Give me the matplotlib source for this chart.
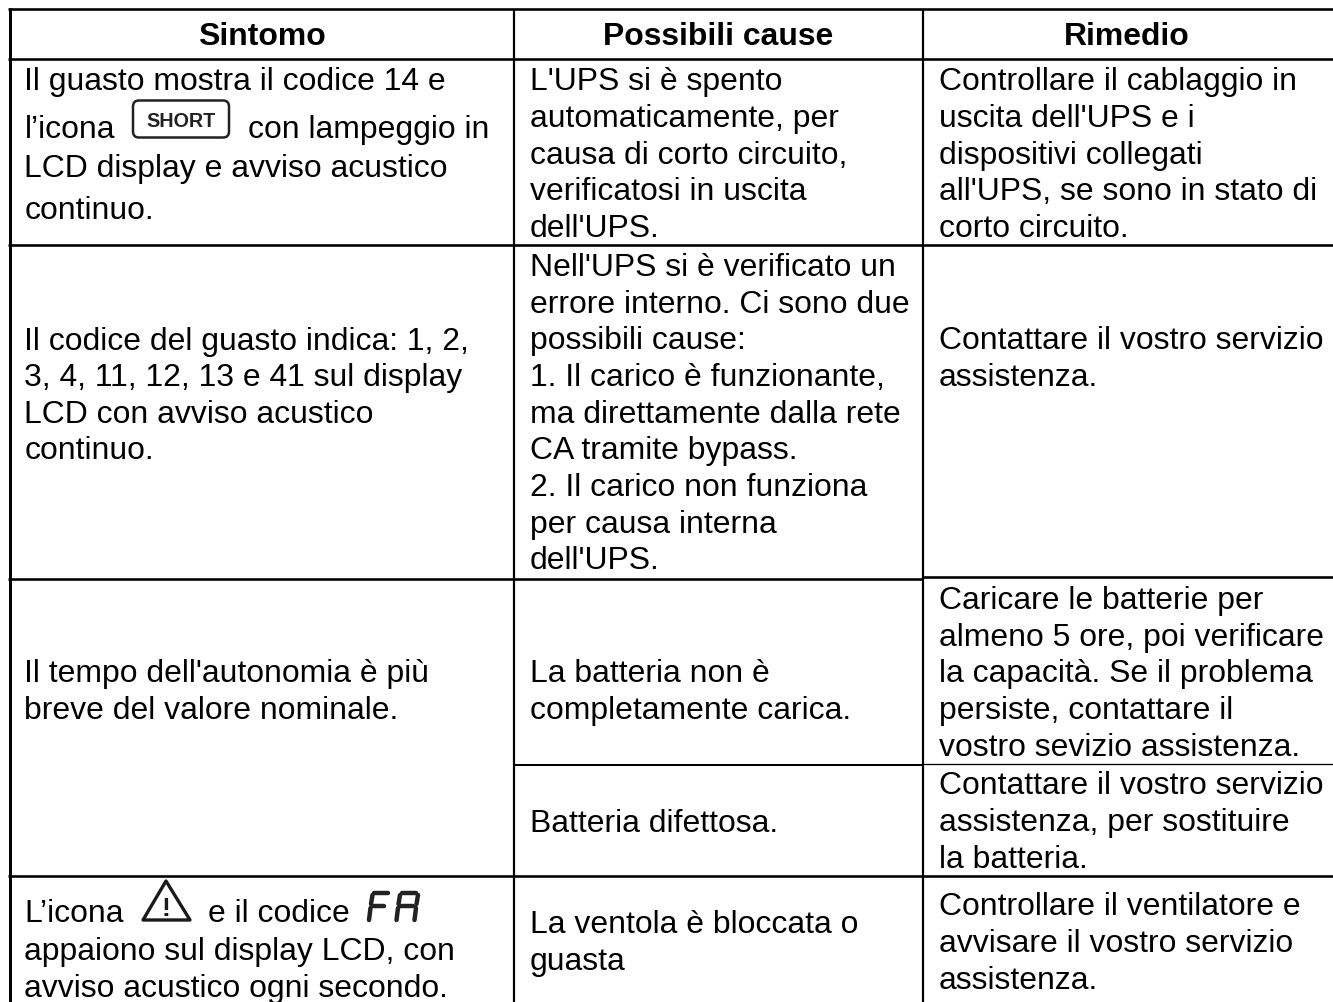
import matplotlib
matplotlib.use("Agg")
import matplotlib.pyplot as plt
from matplotlib.patches import FancyBboxPatch, Polygon

plt.rcParams['font.family'] = ['Liberation Sans', 'DejaVu Sans']
W, H = 1333, 1002
FS = 22.95

headers = ["Sintomo", "Possibili cause", "Rimedio"]
header_x = [262, 718.5, 1127]
col_x = [24.5, 530, 939]

col1_lines = [
    (90, "Il guasto mostra il codice 14 e"),
    (138, "l’icona"),
    (177, "LCD display e avviso acustico"),
    (219, "continuo."),
    (350, "Il codice del guasto indica: 1, 2,"),
    (386, "3, 4, 11, 12, 13 e 41 sul display"),
    (423, "LCD con avviso acustico"),
    (459, "continuo."),
    (682, "Il tempo dell'autonomia è più"),
    (719, "breve del valore nominale."),
    (922, "L’icona"),
    (960, "appaiono sul display LCD, con"),
    (997, "avviso acustico ogni secondo."),
]
col1_extra = [
    (248, 138, "con lampeggio in"),
    (208, 922, "e il codice"),
]
col2_lines = [
    (90, "L'UPS si è spento"),
    (127, "automaticamente, per"),
    (164, "causa di corto circuito,"),
    (200, "verificatosi in uscita"),
    (237, "dell'UPS."),
    (276, "Nell'UPS si è verificato un"),
    (313, "errore interno. Ci sono due"),
    (349, "possibili cause:"),
    (386, "1. Il carico è funzionante,"),
    (423, "ma direttamente dalla rete"),
    (459, "CA tramite bypass."),
    (496, "2. Il carico non funziona"),
    (533, "per causa interna"),
    (569, "dell'UPS."),
    (682, "La batteria non è"),
    (719, "completamente carica."),
    (832, "Batteria difettosa."),
    (933, "La ventola è bloccata o"),
    (970, "guasta"),
]
col3_lines = [
    (90, "Controllare il cablaggio in"),
    (127, "uscita dell'UPS e i"),
    (164, "dispositivi collegati"),
    (200, "all'UPS, se sono in stato di"),
    (237, "corto circuito."),
    (349, "Contattare il vostro servizio"),
    (386, "assistenza."),
    (609, "Caricare le batterie per"),
    (646, "almeno 5 ore, poi verificare"),
    (682, "la capacità. Se il problema"),
    (719, "persiste, contattare il"),
    (756, "vostro sevizio assistenza."),
    (794, "Contattare il vostro servizio"),
    (831, "assistenza, per sostituire"),
    (868, "la batteria."),
    (915, "Controllare il ventilatore e"),
    (952, "avvisare il vostro servizio"),
    (989, "assistenza."),
]

fig = plt.figure(figsize=(W / 100, H / 100), dpi=100)
ax = fig.add_axes([0, 0, 1, 1])
ax.set_xlim(0, W)
ax.set_ylim(H, 0)
ax.axis('off')

def rule(x0, x1, y0, y1, px):
    ax.plot([x0, x1], [y0, y1], color='black', lw=px * 0.72, solid_capstyle='butt')

rule(9.5, 9.5, 8, H, 3)
rule(514.3, 514.3, 9, H, 2.2)
rule(922.8, 922.8, 9, H, 2.2)
rule(8, W, 9, 9, 2.6)
rule(8, W, 58.5, 58.5, 2.6)
rule(8, W, 245, 245, 2.6)
rule(8, 923, 578.5, 578.5, 2.6)
rule(923, W, 577.3, 577.3, 2.6)
rule(514, 923, 764.7, 764.7, 2)
rule(923, W, 764, 764, 1.3)
rule(8, W, 876, 876, 2.6)

for x, h in zip(header_x, headers):
    ax.text(x, 45, h, ha='center', va='baseline', fontsize=FS, fontweight='bold', color='black')
for cx, lines in zip(col_x, [col1_lines, col2_lines, col3_lines]):
    for y, s in lines:
        ax.text(cx, y, s, ha='left', va='baseline', fontsize=FS, color='black')
for x, y, s in col1_extra:
    ax.text(x, y, s, ha='left', va='baseline', fontsize=FS, color='black')

# SHORT icon
ax.add_patch(FancyBboxPatch((133, 100.5), 96, 37, boxstyle="round,pad=0,rounding_size=6",
                            fc='white', ec='#222222', lw=1.8))
ax.text(181.5, 127, "SHORT", ha='center', va='baseline', fontsize=14.2, fontweight='bold', color='#222222')

# warning icon
ax.add_patch(Polygon([[166, 881], [143, 920], [190, 920]], closed=True, fc='white', ec='#1a1a1a', lw=2.4, joinstyle='round'))
ax.text(166, 915.5, "!", ha='center', va='baseline', fontsize=19, fontweight='bold', color='#1a1a1a')

# FA segment icon
seg = dict(color='#222222', lw=3.2, solid_capstyle='round')
for (x0, y0, x1, y1) in [
    (374, 893, 388, 893), (373, 906, 384, 906),
    (372.5, 895, 371, 904), (370.5, 908, 369, 920),
    (402, 893, 416, 893), (400, 906, 413, 906),
    (400, 895, 398.5, 904), (398, 908, 396.5, 920),
    (418, 895, 416.5, 904), (416, 908, 414.5, 920),
]:
    ax.plot([x0, x1], [y0, y1], **seg)

fig.savefig('out.png', dpi=100)
